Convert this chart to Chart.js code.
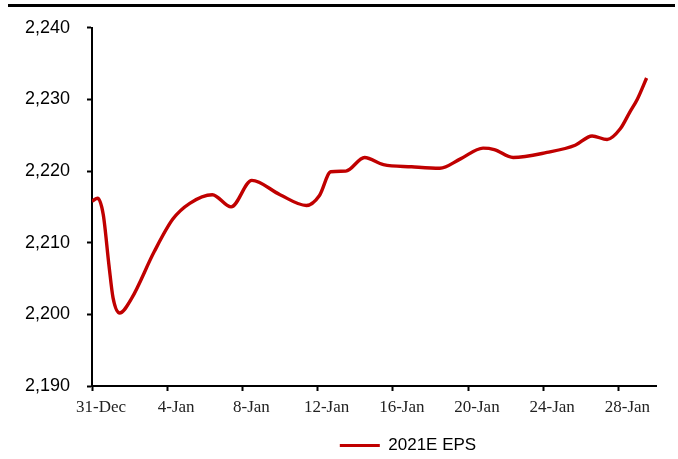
<!DOCTYPE html>
<html>
<head>
<meta charset="utf-8">
<script src="https://cdn.jsdelivr.net/npm/chart.js@4/dist/chart.umd.min.js"></script>
<style>
  html, body { margin: 0; padding: 0; background: #fff; }
  #wrap { position: relative; width: 678px; height: 459px; }
  #topRule { position: absolute; left: 8px; top: 4px; width: 667px; height: 3px; background: #000; }
  #c { position: absolute; left: 0; top: 0; }
</style>
</head>
<body>
<div id="wrap">
  <canvas id="c" width="678" height="459"></canvas>
  <div id="topRule"></div>
</div>
<script>
'use strict'

// days since 31-Dec
const days = [
  0, 0.3, 0.6, 0.9, 1.12, 1.47, 2.1, 3.3, 4.3, 5.2,
  6.4, 7.4, 8.5, 10, 11.4, 12.1, 12.7, 13.5, 14.5, 15.5,
  17, 18.5, 19.6, 20.8, 21.4, 22.4, 24.2, 25.7, 26.6, 27.4,
  28.1, 28.6, 29.0, 29.5
]
const eps2021E = [
  2215.8, 2216.2, 2213.9, 2206.9, 2202.3, 2200.2, 2202.2, 2208.7, 2213.3, 2215.5,
  2216.7, 2215.0, 2218.7, 2216.7, 2215.2, 2216.6, 2219.9, 2220.0, 2221.9, 2220.9,
  2220.6, 2220.4, 2221.7, 2223.2, 2223.0, 2221.9, 2222.6, 2223.6, 2224.9, 2224.4,
  2225.9, 2228.2, 2230.0, 2233.0
]
const tickDays = [0, 4, 8, 12, 16, 20, 24, 28]
const tickLabels = ['31-Dec', '4-Jan', '8-Jan', '12-Jan', '16-Jan', '20-Jan', '24-Jan', '28-Jan']
const seriesName = '2021E EPS'

const red = '#C00000'

// nudge the legend to where the original sits
const legendShift = {
  id: 'legendShift',
  afterLayout(chart) {
    const lg = chart.legend
    if (!lg) return
    const dx = 80
    const dy = 5
    lg.left += dx
    lg.right += dx
    lg.top += dy
    lg.bottom += dy
  }
}

new Chart(document.getElementById('c'), {
  type: 'line',
  data: {
    datasets: [
      {
        label: seriesName,
        data: days.map((d, i) => ({ x: d, y: eps2021E[i] })),
        borderColor: red,
        backgroundColor: red,
        borderWidth: 3.4,
        pointRadius: 0,
        cubicInterpolationMode: 'monotone',
        fill: false
      }
    ]
  },
  options: {
    responsive: false,
    animation: false,
    devicePixelRatio: 1,
    layout: {
      padding: { top: 23, right: 22, left: 0, bottom: 0 }
    },
    scales: {
      x: {
        type: 'linear',
        min: 0,
        max: 30,
        afterBuildTicks: (axis) => {
          axis.ticks = tickDays.map((v) => ({ value: v }))
        },
        afterFit: (scale) => {
          scale.height = 40
        },
        grid: {
          display: true,
          drawOnChartArea: false,
          drawTicks: true,
          tickLength: 5,
          tickWidth: 2,
          tickColor: '#000'
        },
        border: {
          color: '#000',
          width: 2
        },
        ticks: {
          color: '#222',
          font: { family: 'Liberation Serif', size: 17 },
          padding: 6,
          labelOffset: 9,
          maxRotation: 0,
          minRotation: 0,
          autoSkip: false,
          callback: (value) => tickLabels[tickDays.indexOf(value)]
        }
      },
      y: {
        min: 2190,
        max: 2240,
        afterFit: (scale) => {
          scale.width = 92
        },
        grid: {
          display: true,
          drawOnChartArea: false,
          drawTicks: true,
          tickLength: 5,
          tickWidth: 2,
          tickColor: '#000'
        },
        border: {
          color: '#000',
          width: 2
        },
        ticks: {
          stepSize: 10,
          color: '#000',
          font: { family: 'Liberation Sans', size: 18 },
          padding: 17,
          callback: (value) => value.toLocaleString('en-US')
        }
      }
    },
    plugins: {
      legend: {
        display: true,
        position: 'bottom',
        labels: {
          boxWidth: 40,
          boxHeight: 3,
          padding: 6,
          color: '#000',
          font: { family: 'Liberation Sans', size: 17 },
          generateLabels: (chart) =>
            Chart.defaults.plugins.legend.labels
              .generateLabels(chart)
              .map((it) => ({ ...it, lineWidth: 0, fillStyle: red }))
        }
      },
      tooltip: { enabled: false }
    }
  },
  plugins: [legendShift]
})
</script>
</body>
</html>
